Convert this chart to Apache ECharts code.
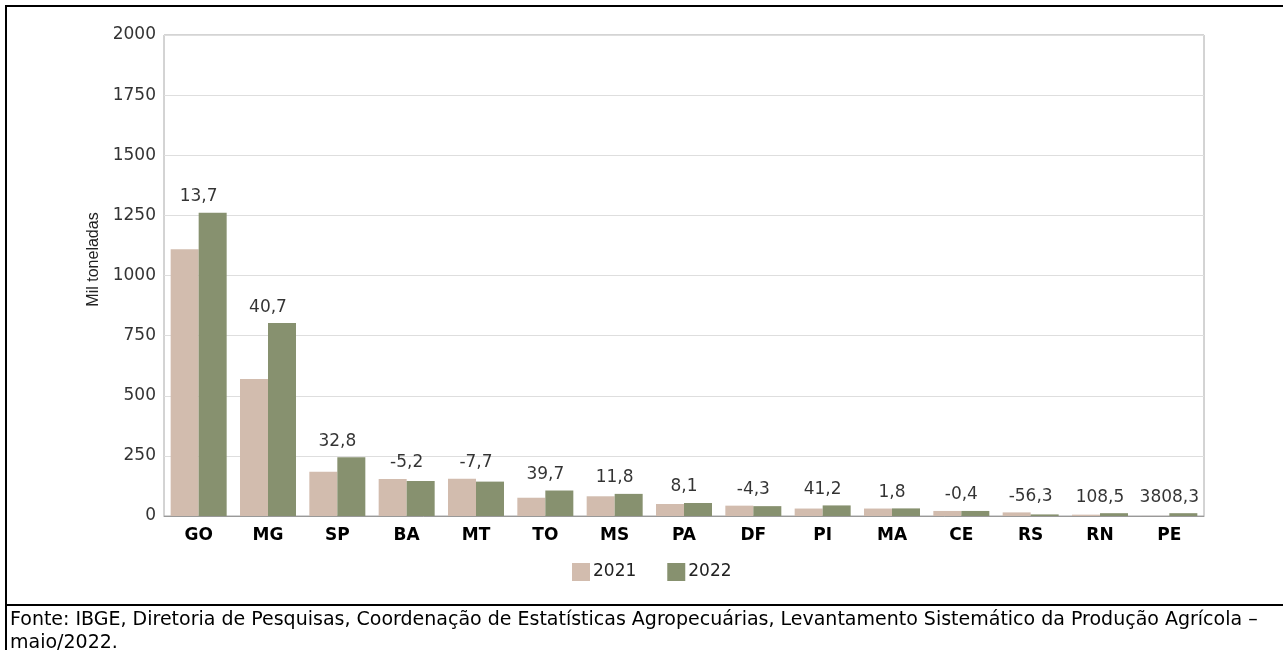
<!DOCTYPE html>
<html>
<head>
<meta charset="utf-8">
<script src="https://cdn.jsdelivr.net/npm/echarts@6/dist/echarts.min.js"></script>
<style>
html,body{margin:0;padding:0;background:#fff;}
#chart{width:1283px;height:650px;}
</style>
</head>
<body>
<div id="chart"></div>
<script>
var categories = ['GO','MG','SP','BA','MT','TO','MS','PA','DF','PI','MA','CE','RS','RN','PE'];
var values2021 = [1109, 570, 184, 154, 155, 76, 82, 50, 43, 31, 31, 21, 15, 5.6, 0.3];
var values2022 = [1261, 802, 244, 146, 143, 106, 92, 54, 41, 44, 31.6, 21, 6.6, 11.7, 11.7];
var changeLabels = ['13,7','40,7','32,8','-5,2','-7,7','39,7','11,8','8,1','-4,3','41,2','1,8','-0,4','-56,3','108,5','3808,3'];
var yTicks = [0, 250, 500, 750, 1000, 1250, 1500, 1750, 2000];
var footerText = 'Fonte: IBGE, Diretoria de Pesquisas, Coordenação de Estatísticas Agropecuárias, Levantamento Sistemático da Produção Agrícola –';
var footerText2 = 'maio/2022.';

var labelHeights = values2021.map(function(v, i){ return Math.max(v, values2022[i]); });

var chart = echarts.init(document.getElementById('chart'), null, {renderer:'canvas'});
chart.setOption({
  animation: false,
  backgroundColor: '#ffffff',
  grid: {left:164, right:79, top:35, bottom:134, show:true, borderColor:'#a8a8a8', borderWidth:1, backgroundColor:'transparent'},
  legend: {
    data: ['2021','2022'],
    left: 567, top: 558,
    itemWidth: 18, itemHeight: 18, itemGap: 31,
    icon: 'rect',
    textStyle: {fontFamily:'DejaVu Sans', fontSize:17, color:'#222', padding:[0,0,0,-2]}
  },
  xAxis: {
    type: 'category',
    data: categories,
    axisLine: {lineStyle:{color:'#999', width:1}},
    axisTick: {show:false},
    axisLabel: {fontFamily:'DejaVu Sans', fontWeight:'bold', fontSize:17, color:'#000', margin:11, interval:0}
  },
  yAxis: {
    type: 'value',
    min: yTicks[0], max: yTicks[yTicks.length-1], interval: 250,
    name: 'Mil toneladas',
    nameLocation: 'middle',
    nameGap: 58,
    nameTextStyle: {fontFamily:'Liberation Sans', fontSize:16, color:'#222', padding:[0,0,0,32]},
    axisLine: {show:false},
    axisTick: {show:false},
    axisLabel: {fontFamily:'DejaVu Sans', fontSize:17, color:'#333', margin:8,
      formatter: function(v){ return String(v); }},
    splitLine: {lineStyle:{color:'#dedede', width:1}}
  },
  series: [
    {name:'2021', type:'bar', data: values2021, barWidth:28, barGap:'0%', itemStyle:{color:'#d2bcae'}},
    {name:'2022', type:'bar', data: values2022, barWidth:28, barGap:'0%', itemStyle:{color:'#87916f'}},
    {name:'var', type:'scatter', data: labelHeights, symbolSize:1, itemStyle:{color:'rgba(0,0,0,0)'},
     label:{show:true, position:'top', distance:7, fontFamily:'DejaVu Sans', fontSize:17, color:'#000',
       formatter:function(p){ return changeLabels[p.dataIndex]; }}}
  ],
  graphic: [
    {type:'rect', left:5, top:5, shape:{width:1278, height:2}, style:{fill:'#000'}},
    {type:'rect', left:5, top:5, shape:{width:2, height:645}, style:{fill:'#000'}},
    {type:'rect', left:5, top:604, shape:{width:1278, height:2}, style:{fill:'#000'}},
    {type:'text', left:10, top:611, style:{text:footerText, font:'19px "DejaVu Sans"', fill:'#000'}},
    {type:'text', left:10, top:634, style:{text:footerText2, font:'19px "DejaVu Sans"', fill:'#000'}}
  ]
});
</script>
</body>
</html>
